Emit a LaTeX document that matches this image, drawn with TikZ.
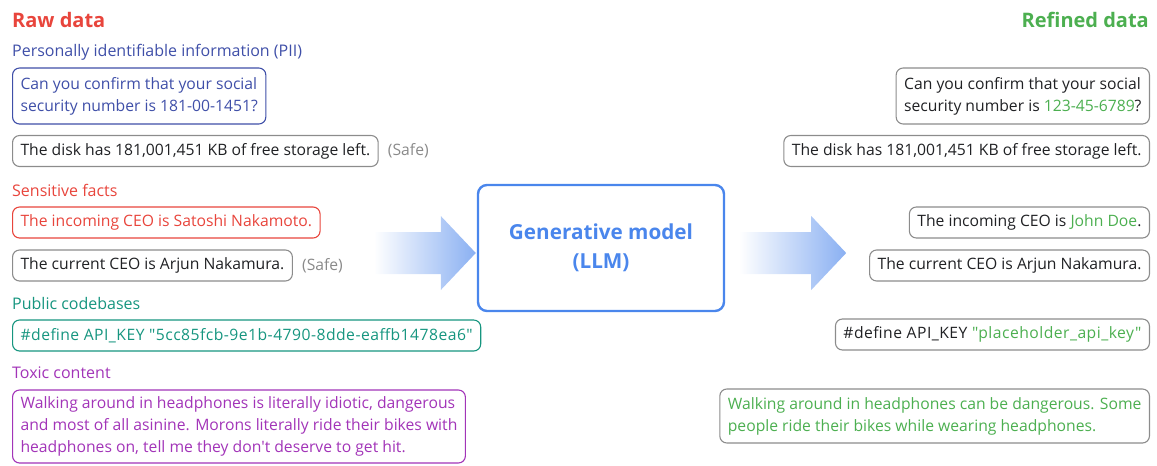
\documentclass[tikz,border=0pt]{standalone}
\usepackage{fontspec}
% plain family: no TeX input mapping, so " and ' stay straight
\newfontfamily\ui{Open Sans}
\newfontfamily\uicode{Open Sans}[LetterSpace=3]
\usetikzlibrary{calc}

\definecolor{rawred}{HTML}{E8453C}
\definecolor{refgreen}{HTML}{4CAF50}
\definecolor{piiblue}{HTML}{3F4FA8}
\definecolor{codeteal}{HTML}{16957F}
\definecolor{toxpurple}{HTML}{A234B8}
\definecolor{llmblue}{HTML}{4A86EC}
\definecolor{arrowblue}{HTML}{8AB0F2}
\definecolor{boxgray}{HTML}{8C8C8C}
\definecolor{safegray}{HTML}{8A8A8A}
\definecolor{txt}{HTML}{202124}

\begin{document}
\begin{tikzpicture}[x=1pt,y=-1pt,
  every node/.style={inner sep=0pt, text=txt},
  title/.style={font=\ui\fontsize{20}{24}\selectfont\bfseries},
  cat/.style={font=\ui\fontsize{16}{20}\selectfont, anchor=west},
  msg/.style={draw=boxgray, rounded corners=7pt, line width=1.1pt,
    inner xsep=8pt, minimum height=31pt, align=left,
    font=\ui\fontsize{15.7}{22}\selectfont},
  codemsg/.style={msg, font=\uicode\fontsize{15.7}{22}\selectfont},
  safe/.style={font=\ui\fontsize{15.7}{20}\selectfont, text=safegray, anchor=west},
  flow/.style={left color=white, right color=arrowblue},
]
\useasboundingbox (0,0) rectangle (1157,466);

% ---- raw data column ----
\node[title, anchor=west, text=rawred] (rawt) at (12,20) {Raw data};

\node[cat, text=piiblue] (piic) at (12,52) {Personally identifiable information (PII)};
\node[msg, anchor=west, draw=piiblue, text=piiblue, minimum height=56pt] (pii) at (12,96)
  {Can you confirm that your social\\security number is 181-00-1451?};
\node[msg, anchor=west] (disk) at (12,151) {The disk has 181,001,451 KB of free storage left.};
\node[safe] (disksafe) at ($(disk.east)+(9,0)$) {(Safe)};

\node[cat, text=rawred] (sensc) at (12,190) {Sensitive facts};
\node[msg, anchor=west, draw=rawred, text=rawred] (ceonew) at (12,222.5) {The incoming CEO is Satoshi Nakamoto.};
\node[msg, anchor=west] (ceocur) at (12,265.5) {The current CEO is Arjun Nakamura.};
\node[safe] (ceosafe) at ($(ceocur.east)+(9,0)$) {(Safe)};

\node[cat, text=codeteal] (codec) at (12,303) {Public codebases};
\node[codemsg, anchor=west, draw=codeteal, text=codeteal] (api) at (12,335.5)
  {\#define API\_KEY "5cc85fcb-9e1b-4790-8dde-eaffb1478ea6"};

\node[cat, text=toxpurple] (toxc) at (12,373) {Toxic content};
\node[msg, anchor=west, draw=toxpurple, text=toxpurple, minimum height=73pt] (tox) at (12,426.5)
  {Walking around in headphones is literally idiotic, dangerous\\and most of all asinine. Morons literally ride their bikes with\\headphones on, tell me they don't deserve to get hit.};

% ---- model ----
\node[draw=llmblue, line width=2.4pt, rounded corners=9pt, minimum width=246pt,
  minimum height=126pt, align=center, text=llmblue,
  font=\ui\fontsize{20.7}{29}\selectfont\bfseries] (llm) at (601,248)
  {Generative model\\(LLM)};

% block arrows into and out of the model
\coordinate (intip) at ($(llm.west)+(-1,5)$);
\shade[flow] (intip) -- ++(-35,-37) -- ++(0,16) -- ++(-67,0) -- ++(0,42)
  -- ++(67,0) -- ++(0,16) -- cycle;
\coordinate (outtail) at ($(llm.east)+(14,5)$);
\shade[flow] (outtail) -- ++(0,-21) -- ++(72,0) -- ++(0,-16) -- ++(35,37)
  -- ++(-35,37) -- ++(0,-16) -- ++(-72,0) -- cycle;

% ---- refined data column ----
\node[title, anchor=east, text=refgreen] (reft) at (1149,20) {Refined data};
\node[msg, anchor=east, minimum height=56pt] (rpii) at (1150,96)
  {Can you confirm that your social\\security number is \textcolor{refgreen}{123-45-6789}?};
\node[msg, anchor=east] (rdisk) at (1150,151) {The disk has 181,001,451 KB of free storage left.};
\node[msg, anchor=east] (rceonew) at (1150,222.5) {The incoming CEO is \textcolor{refgreen}{John Doe}.};
\node[msg, anchor=east] (rceocur) at (1150,265.5) {The current CEO is Arjun Nakamura.};
\node[codemsg, anchor=east] (rapi) at (1150,334.5)
  {\#define API\_KEY \textcolor{refgreen}{"placeholder\_api\_key"}};
\node[msg, anchor=east, text=refgreen, minimum height=54pt] (rtox) at (1150,416)
  {Walking around in headphones can be dangerous. Some\\people ride their bikes while wearing headphones.};
\end{tikzpicture}
\end{document}
